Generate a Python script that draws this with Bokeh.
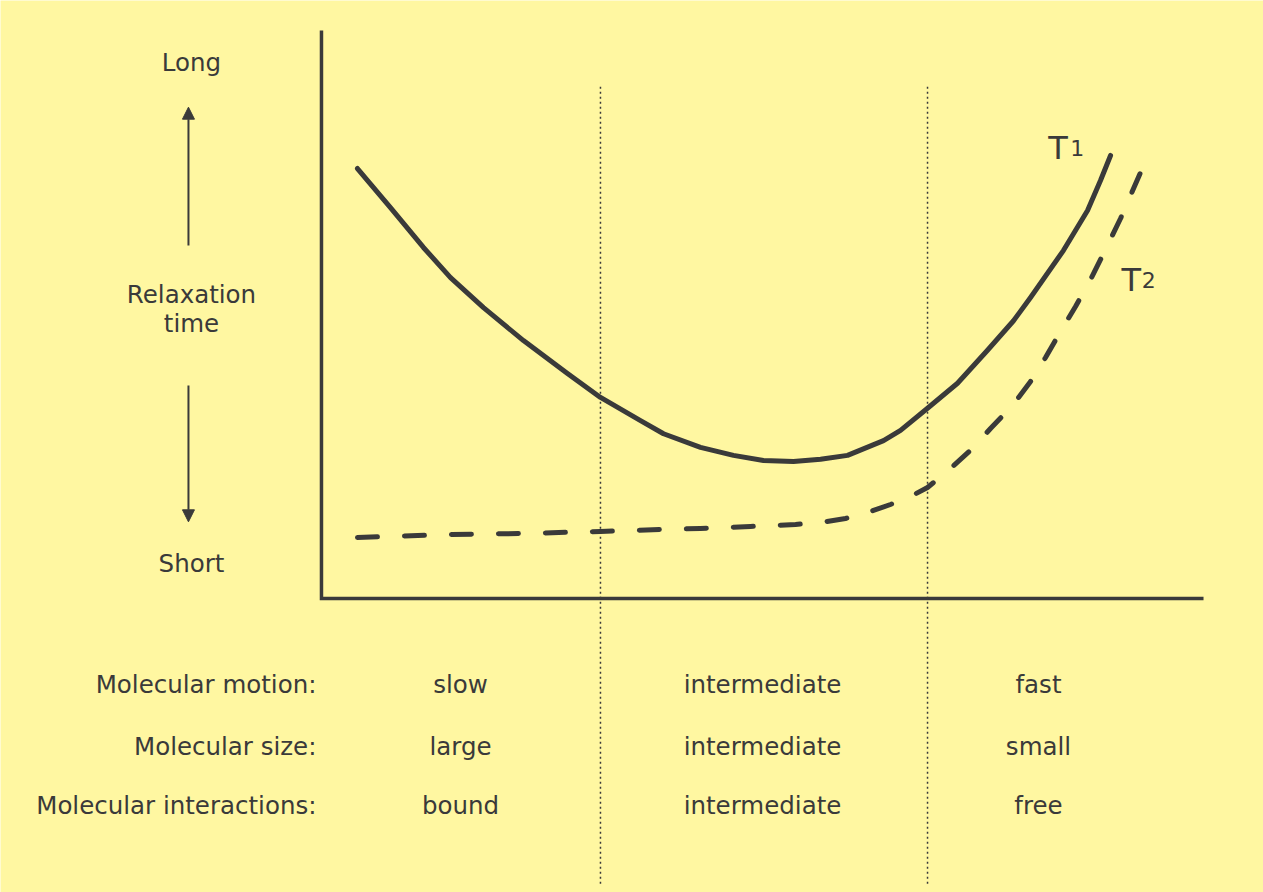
from bokeh.plotting import figure
from bokeh.models import Range1d, Arrow, NormalHead
from bokeh.core.properties import value
from bokeh.embed import file_html
from bokeh.resources import INLINE

# ---- data (abstract units: x = molecular motion 0..100, y = relaxation time 0..100) ----
t1_x = [4.08, 7.82, 11.56, 14.63, 18.37, 22.90, 27.89, 31.63, 36.17, 38.78, 42.97, 46.71,
        50.11, 53.51, 56.58, 59.64, 63.72, 65.65, 68.71, 72.11, 75.51, 78.46, 80.39, 84.13,
        86.85, 88.32, 89.46]
t1_y = [75.7, 68.8, 61.8, 56.5, 51.2, 45.4, 39.6, 35.4, 31.3, 29.0, 26.6, 25.2,
        24.3, 24.1, 24.5, 25.2, 27.8, 29.6, 33.5, 37.9, 43.7, 48.9, 53.0, 61.3,
        68.3, 73.6, 78.0]

t2_x = [4.08, 14.63, 22.56, 31.63, 38.44, 42.97, 48.64, 53.74, 56.58, 59.41, 62.24, 64.51,
        66.78, 68.71, 71.32, 73.81, 75.85, 78.34, 80.39, 82.09, 83.79, 85.49, 87.19, 88.89,
        90.59, 92.86]
t2_y = [10.74, 11.27, 11.44, 11.80, 12.15, 12.32, 12.68, 13.03, 13.38, 14.08, 15.32, 16.55,
        17.96, 19.54, 22.89, 26.41, 29.93, 33.98, 38.20, 42.43, 47.01, 51.41, 56.16, 61.44,
        66.90, 75.00]

region_bounds = [31.63, 68.71]          # slow | intermediate | fast
divider_top, divider_bottom = 90.3, -50.2

axis_x = [0, 0, 100]
axis_y = [100, 0, 0]

row_labels = ["Molecular motion:", "Molecular size:", "Molecular interactions:"]
row_y = [-15.15, -26.0, -36.4]
col_x = [15.76, 50.0, 81.29]
col_labels = [["slow", "intermediate", "fast"],
              ["large", "intermediate", "small"],
              ["bound", "intermediate", "free"]]

side_labels = ["Long", "Relaxation", "time", "Short"]
side_x = [-14.74, -14.74, -14.74, -14.74]
side_y = [94.4, 53.6, 48.4, 6.2]

arrow_x = [-15.08, -15.08]
arrow_y0 = [62.15, 37.5]
arrow_y1 = [86.5, 13.5]

curve_names = ["T", "T"]
curve_subs = ["1", "2"]
name_x = [82.4, 90.7]
name_y = [79.4, 56.0]
sub_x = [84.9, 93.0]

BG = "#FFF7A1"
INK = "#3a3a3a"
FONT = value("DejaVu Sans")

p = figure(width=1263, height=892, output_backend="svg", toolbar_location=None,
           x_range=Range1d(-36.39, 106.80), y_range=Range1d(-51.76, 105.28),
           x_axis_location=None, y_axis_location=None, min_border=0,
           background_fill_color=BG, border_fill_color=BG, outline_line_color=None)
p.xgrid.visible = False
p.ygrid.visible = False

# dotted dividers
for bx in region_bounds:
    p.line([bx, bx], [divider_bottom, divider_top], line_color=INK, line_width=1.5,
           line_dash="2 3")

# axes
p.line(axis_x, axis_y, line_color=INK, line_width=3.5, line_join="miter")

# curves
p.line(t1_x, t1_y, line_color=INK, line_width=5, line_cap="round", line_join="round")
p.line(t2_x, t2_y, line_color=INK, line_width=5, line_cap="round", line_join="round",
       line_dash="20 27")

# curve labels
p.text(x=name_x, y=name_y, text=curve_names, text_font=FONT, text_font_size="32px",
       text_color=INK, text_align="left", text_baseline="alphabetic")
p.text(x=sub_x, y=name_y, text=curve_subs, text_font=FONT, text_font_size="22px",
       text_color=INK, text_align="left", text_baseline="alphabetic")

# side labels
p.text(x=side_x, y=side_y, text=side_labels, text_font=FONT, text_font_size="24.5px",
       text_color=INK, text_align="center", text_baseline="alphabetic")

# arrows
for i in range(len(arrow_x)):
    p.add_layout(Arrow(end=NormalHead(size=12, fill_color=INK, line_color=INK, line_width=1),
                       x_start=arrow_x[i], y_start=arrow_y0[i],
                       x_end=arrow_x[i], y_end=arrow_y1[i],
                       line_color=INK, line_width=2))

# bottom table
p.text(x=[-0.57] * len(row_labels), y=row_y, text=row_labels, text_font=FONT,
       text_font_size="24.5px", text_color=INK, text_align="right", text_baseline="alphabetic")
for r, labels in enumerate(col_labels):
    p.text(x=col_x, y=[row_y[r]] * len(col_x), text=labels, text_font=FONT,
           text_font_size="24.5px", text_color=INK, text_align="center",
           text_baseline="alphabetic")

open("out.html", "w").write(file_html(p, INLINE))
